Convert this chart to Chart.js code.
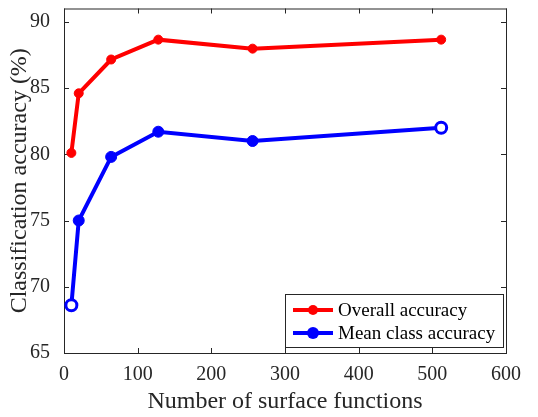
<!DOCTYPE html>
<html>
<head>
<meta charset="utf-8">
<script src="https://cdn.jsdelivr.net/npm/chart.js@4"></script>
<style>
  body { margin: 0; background: #fff; }
</style>
</head>
<body>
<canvas id="accChart" width="538" height="417"></canvas>
<script>
// number of surface functions vs accuracy
var numFunctions = [10, 20, 64, 128, 256, 512];
var overallAcc = [80.1, 84.6, 87.15, 88.65, 87.97, 88.65];
var meanClassAcc = [68.6, 75.0, 79.8, 81.7, 81.0, 82.0];
var xTicks = [0, 100, 200, 300, 400, 500, 600];
var yTicks = [65, 70, 75, 80, 85, 90];

var serif = "'Liberation Serif', 'Times New Roman', serif";
var axisColor = "#262626";

function toPoints(xs, ys) {
  return xs.map(function (x, i) { return { x: x, y: ys[i] }; });
}

// box around the axes with inward ticks on all sides (matlab style)
var framePlugin = {
  id: "frame",
  beforeDatasetsDraw: function (chart) {
    var ctx = chart.ctx;
    var a = chart.chartArea;
    var xs = chart.scales.x, ys = chart.scales.y;
    ctx.save();
    ctx.strokeStyle = axisColor;
    ctx.lineWidth = 1;
    ctx.strokeRect(a.left + 0.5, a.top + 0.5, a.right - a.left, a.bottom - a.top);
    ctx.beginPath();
    xTicks.forEach(function (v) {
      var px = Math.round(xs.getPixelForValue(v)) + 0.5;
      ctx.moveTo(px, a.bottom); ctx.lineTo(px, a.bottom - 5);
      ctx.moveTo(px, a.top); ctx.lineTo(px, a.top + 5);
    });
    yTicks.forEach(function (v) {
      var py = Math.round(ys.getPixelForValue(v)) + 0.5;
      ctx.moveTo(a.left, py); ctx.lineTo(a.left + 5, py);
      ctx.moveTo(a.right, py); ctx.lineTo(a.right - 5, py);
    });
    ctx.stroke();
    ctx.restore();
  }
};

// legend box in the lower right corner
var legendPlugin = {
  id: "boxLegend",
  afterDraw: function (chart) {
    var ctx = chart.ctx;
    var a = chart.chartArea;
    var w = 218, h = 53;
    var x0 = a.right - 3 - w, y0 = a.bottom - 6 - h;
    ctx.save();
    ctx.fillStyle = "#fff";
    ctx.fillRect(x0, y0, w, h);
    ctx.strokeStyle = axisColor;
    ctx.lineWidth = 1;
    ctx.strokeRect(Math.round(x0) + 0.5, Math.round(y0) + 0.5, w, h);
    ctx.font = "19px " + serif;
    ctx.textBaseline = "middle";
    chart.data.datasets.forEach(function (ds, i) {
      var cy = y0 + 16 + i * 23;
      ctx.strokeStyle = ds.borderColor;
      ctx.lineWidth = 4;
      ctx.beginPath();
      ctx.moveTo(x0 + 8, cy); ctx.lineTo(x0 + 48, cy);
      ctx.stroke();
      ctx.fillStyle = ds.borderColor;
      ctx.beginPath();
      ctx.arc(x0 + 28, cy, i === 0 ? 5 : 6, 0, Math.PI * 2);
      ctx.fill();
      ctx.fillStyle = "#000";
      ctx.fillText(ds.label, x0 + 53, cy + 1);
    });
    ctx.restore();
  }
};

var ctx = document.getElementById("accChart").getContext("2d");
var accChart = new Chart(ctx, {
  type: "line",
  data: {
    datasets: [
      {
        label: "Overall accuracy",
        data: toPoints(numFunctions, overallAcc),
        borderColor: "#ff0000",
        backgroundColor: "#ff0000",
        borderWidth: 4,
        pointRadius: 4.5,
        pointBorderWidth: 1,
        pointBackgroundColor: "#ff0000",
        tension: 0
      },
      {
        label: "Mean class accuracy",
        data: toPoints(numFunctions, meanClassAcc),
        borderColor: "#0000ff",
        backgroundColor: "#0000ff",
        borderWidth: 4,
        pointRadius: 5.5,
        pointBorderWidth: [3, 1, 1, 1, 1, 3],
        pointBackgroundColor: ["#fff", "#0000ff", "#0000ff", "#0000ff", "#0000ff", "#fff"],
        tension: 0
      }
    ]
  },
  plugins: [framePlugin, legendPlugin],
  options: {
    responsive: false,
    animation: false,
    layout: { padding: { top: 7, right: 32, left: 0, bottom: 0 } },
    plugins: {
      legend: { display: false },
      tooltip: { enabled: false }
    },
    scales: {
      x: {
        type: "linear",
        min: 0,
        max: 600,
        afterBuildTicks: function (axis) {
          axis.ticks = xTicks.map(function (v) { return { value: v }; });
        },
        afterFit: function (axis) {
          axis.height = 64;
          axis.paddingLeft = 0;
          axis.paddingRight = 0;
        },
        grid: { display: false },
        border: { display: false },
        ticks: {
          font: { family: serif, size: 20 },
          color: axisColor,
          padding: 2,
          maxRotation: 0
        },
        title: {
          display: true,
          text: "Number of surface functions",
          font: { family: serif, size: 24 },
          color: axisColor,
          padding: { top: 0, bottom: 1 }
        }
      },
      y: {
        min: 65,
        max: 91,
        afterBuildTicks: function (axis) {
          axis.ticks = yTicks.map(function (v) { return { value: v }; });
        },
        afterFit: function (axis) {
          axis.width = 64;
          axis.paddingTop = 0;
          axis.paddingBottom = 0;
        },
        grid: { display: false },
        border: { display: false },
        ticks: {
          font: { family: serif, size: 20 },
          color: axisColor,
          padding: 6
        },
        title: {
          display: true,
          text: "Classification accuracy (%)",
          font: { family: serif, size: 24 },
          color: axisColor,
          padding: { top: 5, bottom: 0 }
        }
      }
    }
  }
});
</script>
</body>
</html>
